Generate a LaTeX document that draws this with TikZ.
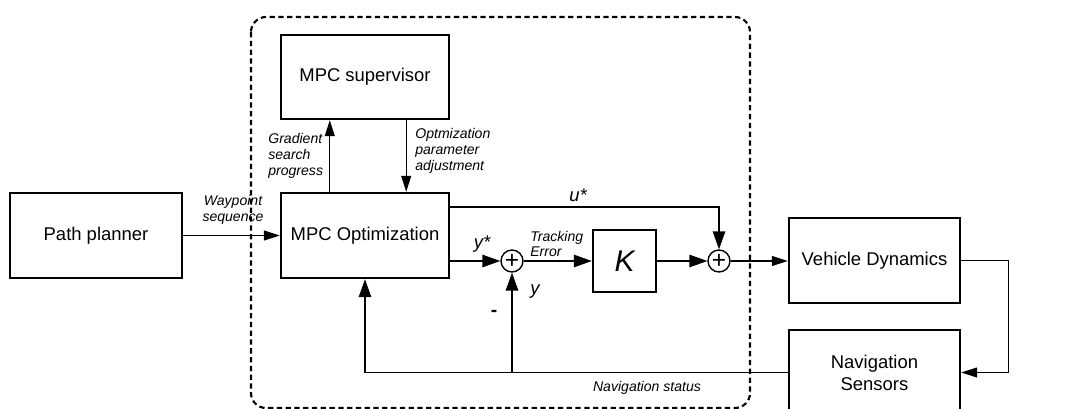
\documentclass[tikz,border=0pt]{standalone}
\usepackage{fontspec}
\setmainfont{Liberation Sans}
\usetikzlibrary{arrows.meta}
\begin{document}
\begin{tikzpicture}[x=0.02cm,y=-0.02cm,
  block/.style={draw,line width=1.4pt,inner sep=0pt,align=center,font=\fontsize{10.5}{12.5}\selectfont},
  sumnode/.style={draw,circle,line width=0.8pt,inner sep=0pt,minimum size=0.44cm,font=\fontsize{14}{14}\selectfont},
  note/.style={inner sep=0pt,font=\itshape\fontsize{8}{9}\selectfont},
  signal/.style={inner sep=0pt,font=\itshape\fontsize{10.5}{12}\selectfont},
  link/.style={line width=0.8pt,-{Triangle[length=0.36cm,width=0.25cm]}},
  thinlink/.style={line width=0.6pt,-{Triangle[length=0.32cm,width=0.2cm]}}]
\useasboundingbox (0,0) rectangle (1080,409);

% Controller boundary
\draw[line width=1.2pt,dash pattern=on 3pt off 2pt,rounded corners=0.3cm] (251,17) rectangle (750,408);

% Blocks
\node[block,minimum width=3.44cm,minimum height=1.7cm] (planner) at (96,235.5) {Path planner};
\node[block,minimum width=3.36cm,minimum height=1.7cm] (opt) at (365,235.5) {MPC Optimization};
\node[block,minimum width=3.36cm,minimum height=1.68cm] (super) at (365,77) {MPC supervisor};
\node[block,minimum width=1.26cm,minimum height=1.24cm,font=\itshape\fontsize{17}{17}\selectfont] (gain) at (624.5,261) {K};
\node[block,minimum width=3.42cm,minimum height=1.7cm] (vehicle) at (874.5,260.5) {Vehicle Dynamics};
\node[block,minimum width=3.42cm,minimum height=1.7cm] (sensors) at (874.5,372.5) {Navigation\\Sensors};

% Summing junctions
\node[sumnode] (sumy) at (512,261) {+};
\node[sumnode] (sumu) at (719,261) {+};

% Forward path
\draw[thinlink] (planner.east) -- (opt.west);
\draw[thinlink] ([xshift=1cm]opt.north west) -- ([xshift=1cm]super.south west);
\draw[thinlink] ([xshift=-0.88cm]super.south east) -- ([xshift=-0.88cm]opt.north east);
\draw[link] ([yshift=0.57cm]opt.east) -| (sumu.north);
\draw[link] (opt.east |- sumy) -- (sumy.west);
\draw[link] (sumy.east) -- (gain.west);
\draw[link] (gain.east) -- (sumu.west);
\draw[thinlink] (sumu.east) -- (sumu.east -| vehicle.west);

% Feedback path
\draw[thinlink] (vehicle.east) -- ++(0.94cm,0) |- (sensors.east);
\draw[link] (sensors.west) -| (opt.south);
\draw[link] (sumy.south |- sensors.west) -- (sumy.south);

% Labels
\node[note,align=center] (waylbl) at (233,210) {Waypoint\\sequence};
\node[note,align=left,anchor=west] (gradlbl) at (268,156) {Gradient\\search\\progress};
\node[note,align=left,anchor=west] (adjlbl) at (415,151) {Optmization\\parameter\\adjustment};
\node[note,align=left,anchor=west] (errlbl) at (530,244) {Tracking\\Error};
\node[note] (navlbl) at (647,388) {Navigation status};
\node[signal] (ulbl) at (578,195) {u*};
\node[signal] (ystarlbl) at (482,244) {y*};
\node[signal] (ylbl) at (535,292) {y};
\node[signal,font=\bfseries\fontsize{11}{11}\selectfont] (minus) at (494,313) {-};
\end{tikzpicture}
\end{document}
